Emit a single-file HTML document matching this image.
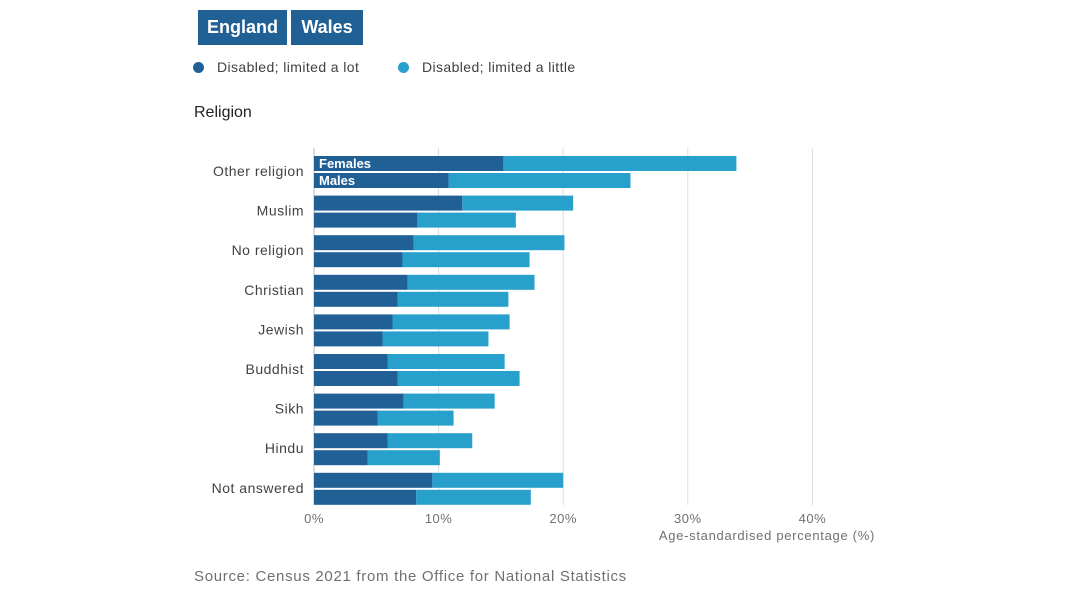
<!DOCTYPE html>
<html><head><meta charset="utf-8"><style>
body{margin:0;width:1088px;height:593px;background:#fff;font-family:"Liberation Sans",sans-serif;overflow:hidden;position:relative}
.btn{position:absolute;top:10px;height:35px;background:#206095;color:#fff;font-weight:bold;font-size:18px;line-height:35px;text-align:center}
.leg{position:absolute;top:59px;font-size:14px;color:#414042;letter-spacing:0.4px}
.dot{display:inline-block;width:11px;height:11px;border-radius:50%;vertical-align:-1px;margin-right:13px}
</style></head><body>
<div class="btn" style="left:198px;width:89px">England</div>
<div class="btn" style="left:291px;width:72px">Wales</div>
<div class="leg" style="left:193px"><span class="dot" style="background:#206095"></span>Disabled; limited a lot</div>
<div class="leg" style="left:398px"><span class="dot" style="background:#27a0cc"></span>Disabled; limited a little</div>
<div style="position:absolute;left:194px;top:104px;font-size:16px;color:#222">Religion</div>
<svg id="c" width="1088" height="593" style="position:absolute;left:0;top:0"></svg>
<div style="position:absolute;left:194px;top:568px;font-size:15px;color:#707071;letter-spacing:0.7px">Source: Census 2021 from the Office for National Statistics</div>
<script>
const categories=["Other religion","Muslim","No religion","Christian","Jewish","Buddhist","Sikh","Hindu","Not answered"];
const femalesLot=[15.2,11.9,8.0,7.5,6.3,5.9,7.2,5.9,9.5];
const femalesLittle=[18.7,8.9,12.1,10.2,9.4,9.4,7.3,6.8,10.5];
const malesLot=[10.8,8.3,7.1,6.7,5.5,6.7,5.1,4.3,8.2];
const malesLittle=[14.6,7.9,10.2,8.9,8.5,9.8,6.1,5.8,9.2];
const ticks=[0,10,20,30,40];
const tickLabels=["0%","10%","20%","30%","40%"];
const svg=document.getElementById('c');const NS='http://www.w3.org/2000/svg';
const x=v=>314+v*12.46;const yRow=i=>156+i*39.6;
function mk(t,a){const e=document.createElementNS(NS,t);for(const k in a)e.setAttribute(k,a[k]);svg.appendChild(e);return e;}
ticks.forEach((t,i)=>{
 const g=mk('line',{x1:x(t),x2:x(t),y1:148,y2:505,stroke:t==0?'#bbb':'#ddd','stroke-width':1});
 
 
 const l=mk('text',{x:x(t),y:523,'text-anchor':'middle','font-size':13,fill:'#707071','letter-spacing':'0.5','font-family':'Liberation Sans,sans-serif'});l.textContent=tickLabels[i];
 
 
});
const at=mk('text',{x:875,y:540,'text-anchor':'end','font-size':13,fill:'#707071','letter-spacing':'0.7','font-family':'Liberation Sans,sans-serif'});at.textContent='Age-standardised percentage (%)';


categories.forEach((c,i)=>{
 const y=yRow(i);
 [[femalesLot[i],femalesLittle[i],y],[malesLot[i],malesLittle[i],y+17]].forEach(([a,b,yy])=>{
  const r1=mk('rect',{x:x(0),y:yy,width:x(a)-x(0),height:15,fill:'#206095'});
  
  
  const r2=mk('rect',{x:x(a),y:yy,width:x(a+b)-x(a),height:15,fill:'#27a0cc'});
  
  
 });
 const t=mk('text',{x:304,y:y+20,'text-anchor':'end','font-size':14,fill:'#414042','letter-spacing':'0.5','font-family':'Liberation Sans,sans-serif'});t.textContent=c;
 
 
});
[['Females',yRow(0)+12],['Males',yRow(0)+29]].forEach(([s,yy])=>{
 const t=mk('text',{x:319,y:yy,'font-size':13,'font-weight':'bold',fill:'#fff','font-family':'Liberation Sans,sans-serif'});t.textContent=s;
 
 
});
</script>
</body></html>
